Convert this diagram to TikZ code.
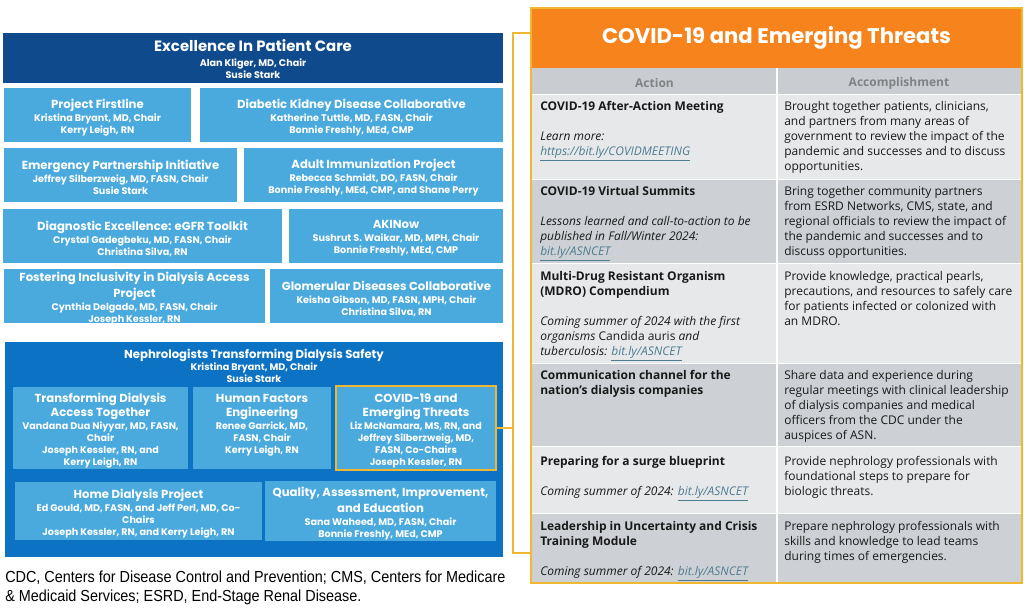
\documentclass[tikz,border=0pt]{standalone}
\usepackage{fontspec}
\setmainfont{Poppins}
\newfontfamily\tf{Open Sans}
\newfontfamily\ff[FakeStretch=0.9]{Liberation Sans}
\definecolor{navy}{RGB}{15,74,141}
\definecolor{lblue}{RGB}{74,170,222}
\definecolor{mblue}{RGB}{12,114,196}
\definecolor{gold}{RGB}{240,184,48}
\definecolor{orng}{RGB}{247,131,28}
\definecolor{hgray}{RGB}{201,205,209}
\definecolor{rlight}{RGB}{230,232,234}
\definecolor{rdark}{RGB}{205,209,213}
\definecolor{lnk}{RGB}{78,124,145}
\definecolor{htxt}{RGB}{128,130,132}
\definecolor{ink}{RGB}{25,25,25}
\newcommand\bigt{\bfseries\fontsize{11.2}{12}\selectfont}
\newcommand\ttl{\bfseries\fontsize{8.75}{9}\selectfont}
\newcommand\nm{\bfseries\fontsize{7.2}{9}\selectfont}
\newcommand\tbf{\tf\fontsize{9}{11.25}\selectfont}
\newcommand\lk[1]{\textcolor{lnk}{\textit{\underline{#1}}}}
% name, x1, y1, x2, y2, fill, text-centre shift (px, downward), text
\newcommand\bx[8]{\node[box,fill=#6,minimum width={((#4)-(#2))*0.75pt},minimum height={((#5)-(#3))*0.75pt}] (#1) at (#2,#3) {};
  \node[lbl] (#1t) at ({((#2)+(#4))/2},{((#3)+(#5))/2+(#7)}) {#8};}
\begin{document}
\begin{tikzpicture}[x=0.75pt,y=-0.75pt,
  box/.style={anchor=north west,inner sep=0pt,outer sep=0pt},
  lbl/.style={inner sep=0pt,align=center,text=white,font=\nm},
  conn/.style={draw=gold,line width=1.5pt},
  cell/.style={anchor=north west,inner sep=0pt,align=left,text=ink,font=\tbf},
  hd/.style={inner sep=0pt,text=htxt,font=\tf\bfseries\fontsize{9}{10}\selectfont}]
\useasboundingbox (0,0) rectangle (1024,607);
\fill[white] (0,0) rectangle (1024,607);
% ---------- left panel ----------
\bx{epc}{3}{33}{503}{83}{navy}{1}{{\bigt Excellence In Patient Care}\\[2.25pt]Alan Kliger, MD, Chair\\Susie Stark}
\bx{pf}{4}{88}{191}{142}{lblue}{2.5}{{\ttl Project Firstline}\\[0.75pt]Kristina Bryant, MD, Chair\\Kerry Leigh, RN}
\bx{dkd}{200}{88}{503}{142}{lblue}{2.5}{{\ttl Diabetic Kidney Disease Collaborative}\\[0.75pt]Katherine Tuttle, MD, FASN, Chair\\Bonnie Freshly, MEd, CMP}
\bx{epi}{4}{148}{237}{202}{lblue}{2.5}{{\ttl Emergency Partnership Initiative}\\[0.75pt]Jeffrey Silberzweig, MD, FASN, Chair\\Susie Stark}
\bx{aip}{244}{148}{503}{202}{lblue}{2.5}{{\ttl Adult Immunization Project}\\[0.75pt]Rebecca Schmidt, DO, FASN, Chair\\Bonnie Freshly, MEd, CMP, and Shane Perry}
\bx{de}{3}{209}{282}{263}{lblue}{2.5}{{\ttl Diagnostic Excellence: eGFR Toolkit}\\[0.75pt]Crystal Gadegbeku, MD, FASN, Chair\\Christina Silva, RN}
\bx{aki}{289}{209}{503}{263}{lblue}{2.5}{{\ttl AKINow}\\[0.75pt]Sushrut S. Waikar, MD, MPH, Chair\\Bonnie Freshly, MEd, CMP}
\bx{fid}{4}{269}{265}{323}{lblue}{2.5}{{\ttl Fostering Inclusivity in Dialysis Access}\\[1.5pt]{\ttl Project}\\[0.75pt]Cynthia Delgado, MD, FASN, Chair\\Joseph Kessler, RN}
\bx{gdc}{270}{269}{503}{323}{lblue}{2.5}{{\ttl Glomerular Diseases Collaborative}\\[0.75pt]Keisha Gibson, MD, FASN, MPH, Chair\\Christina Silva, RN}
\node[box,fill=mblue,minimum width={498*0.75pt},minimum height={215*0.75pt}] (ntds) at (5,342) {};
\node[lbl] (ntdst) at (254,366) {{\ttl Nephrologists Transforming Dialysis Safety}\\Kristina Bryant, MD, Chair\\Susie Stark};
\bx{tdat}{13}{387}{188}{469}{lblue}{2.5}{{\ttl Transforming Dialysis}\\[1.5pt]{\ttl Access Together}\\[0.75pt]Vandana Dua Niyyar, MD, FASN,\\Chair\\Joseph Kessler, RN, and\\Kerry Leigh, RN}
\bx{hfe}{193}{387}{331}{469}{lblue}{-2.5}{{\ttl Human Factors}\\[1.5pt]{\ttl Engineering}\\[0.75pt]Renee Garrick, MD,\\FASN, Chair\\Kerry Leigh, RN}
\bx{covid}{336}{386}{496}{470}{lblue}{2.5}{{\ttl COVID-19 and}\\[1.5pt]{\ttl Emerging Threats}\\[0.75pt]Liz McNamara, MS, RN, and\\Jeffrey Silberzweig, MD,\\FASN, Co-Chairs\\Joseph Kessler, RN}
\draw[draw=gold,line width=1.5pt] (covid.north west) rectangle (covid.south east);
\bx{hdp}{15}{482}{262}{540}{lblue}{2.5}{{\ttl Home Dialysis Project}\\[0.75pt]Ed Gould, MD, FASN, and Jeff Perl, MD, Co-\\Chairs\\Joseph Kessler, RN, and Kerry Leigh, RN}
\bx{qaie}{265}{481}{496}{541}{lblue}{2.5}{{\ttl Quality, Assessment, Improvement,}\\[1.5pt]{\ttl and Education}\\[0.75pt]Sana Waheed, MD, FASN, Chair\\Bonnie Freshly, MEd, CMP}
\node[anchor=north west,inner sep=0pt,align=left,text=black,font=\ff\fontsize{12}{14.25}\selectfont] (foot) at (5,569) {\strut CDC, Centers for Disease Control and Prevention; CMS, Centers for Medicare\\\& Medicaid Services; ESRD, End-Stage Renal Disease.};
% ---------- right panel ----------
\fill[white] (532,68) rectangle (1021,582);
\fill[hgray] (532,68) rectangle (1021,94);
\fill[rlight] (532,95) rectangle (1021,179);
\fill[rdark] (532,180) rectangle (1021,263);
\fill[rlight] (532,264) rectangle (1021,363);
\fill[rdark] (532,364) rectangle (1021,446);
\fill[rlight] (532,447) rectangle (1021,513);
\fill[rdark] (532,514) rectangle (1021,582);
\draw[white,line width=1.5pt] (777,68) -- (777,582);
\node[anchor=north west,inner sep=0pt,outer sep=0pt,fill=orng,minimum width={489*0.75pt},minimum height={60*0.75pt},text=white,font=\bfseries\fontsize{15.9}{17}\selectfont] (hdr) at (532,8) {COVID-19 and Emerging Threats};
\node[anchor=north west,inner sep=0pt,outer sep=0pt,draw=gold,line width=1.5pt,minimum width={491*0.75pt},minimum height={575*0.75pt}] (frame) at (531,8) {};
\node[hd] (ha) at (654.5,83) {Action};
\node[hd] (hb) at (899,83) {Accomplishment};
\node[cell] (a1) at (540,100) {\strut\textbf{COVID-19 After-Action Meeting}\\[11.25pt]\textit{Learn more:}\\\lk{https://bit.ly/COVIDMEETING}};
\node[cell] (b1) at (784,100) {\strut Brought together patients, clinicians,\\and partners from many areas of\\government to review the impact of the\\pandemic and successes and to discuss\\opportunities.};
\node[cell] (a2) at (540,185) {\strut\textbf{COVID-19 Virtual Summits}\\[11.25pt]\textit{Lessons learned and call-to-action to be}\\\textit{published in Fall/Winter 2024:}\\\lk{bit.ly/ASNCET}};
\node[cell] (b2) at (784,185) {\strut Bring together community partners\\from ESRD Networks, CMS, state, and\\regional officials to review the impact of\\the pandemic and successes and to\\discuss opportunities.};
\node[cell] (a3) at (540,270) {\strut\textbf{Multi-Drug Resistant Organism}\\\textbf{(MDRO) Compendium}\\[11.25pt]\textit{Coming summer of 2024 with the first}\\\textit{organisms} Candida auris \textit{and}\\\textit{tuberculosis:} \lk{bit.ly/ASNCET}};
\node[cell] (b3) at (784,270) {\strut Provide knowledge, practical pearls,\\precautions, and resources to safely care\\for patients infected or colonized with\\an MDRO.};
\node[cell] (a4) at (540,369) {\strut\textbf{Communication channel for the}\\\textbf{nation’s dialysis companies}};
\node[cell] (b4) at (784,369) {\strut Share data and experience during\\regular meetings with clinical leadership\\of dialysis companies and medical\\officers from the CDC under the\\auspices of ASN.};
\node[cell] (a5) at (540,455) {\strut\textbf{Preparing for a surge blueprint}\\[11.25pt]\textit{Coming summer of 2024:} \lk{bit.ly/ASNCET}};
\node[cell] (b5) at (784,455) {\strut Provide nephrology professionals with\\foundational steps to prepare for\\biologic threats.};
\node[cell] (a6) at (540,520) {\strut\textbf{Leadership in Uncertainty and Crisis}\\\textbf{Training Module}\\[11.25pt]\textit{Coming summer of 2024:} \lk{bit.ly/ASNCET}};
\node[cell] (b6) at (784,520) {\strut Prepare nephrology professionals with\\skills and knowledge to lead teams\\during times of emergencies.};
% ---------- connector ----------
\coordinate (jn) at (513,430);
\coordinate (jt) at (513,33);
\coordinate (jb) at (513,553);
\draw[conn] (covid.east) -- (covid.east -| jn);
\draw[conn] (frame.west |- jt) -- (jt) -- (jb) -- (frame.west |- jb);
\end{tikzpicture}
\end{document}
